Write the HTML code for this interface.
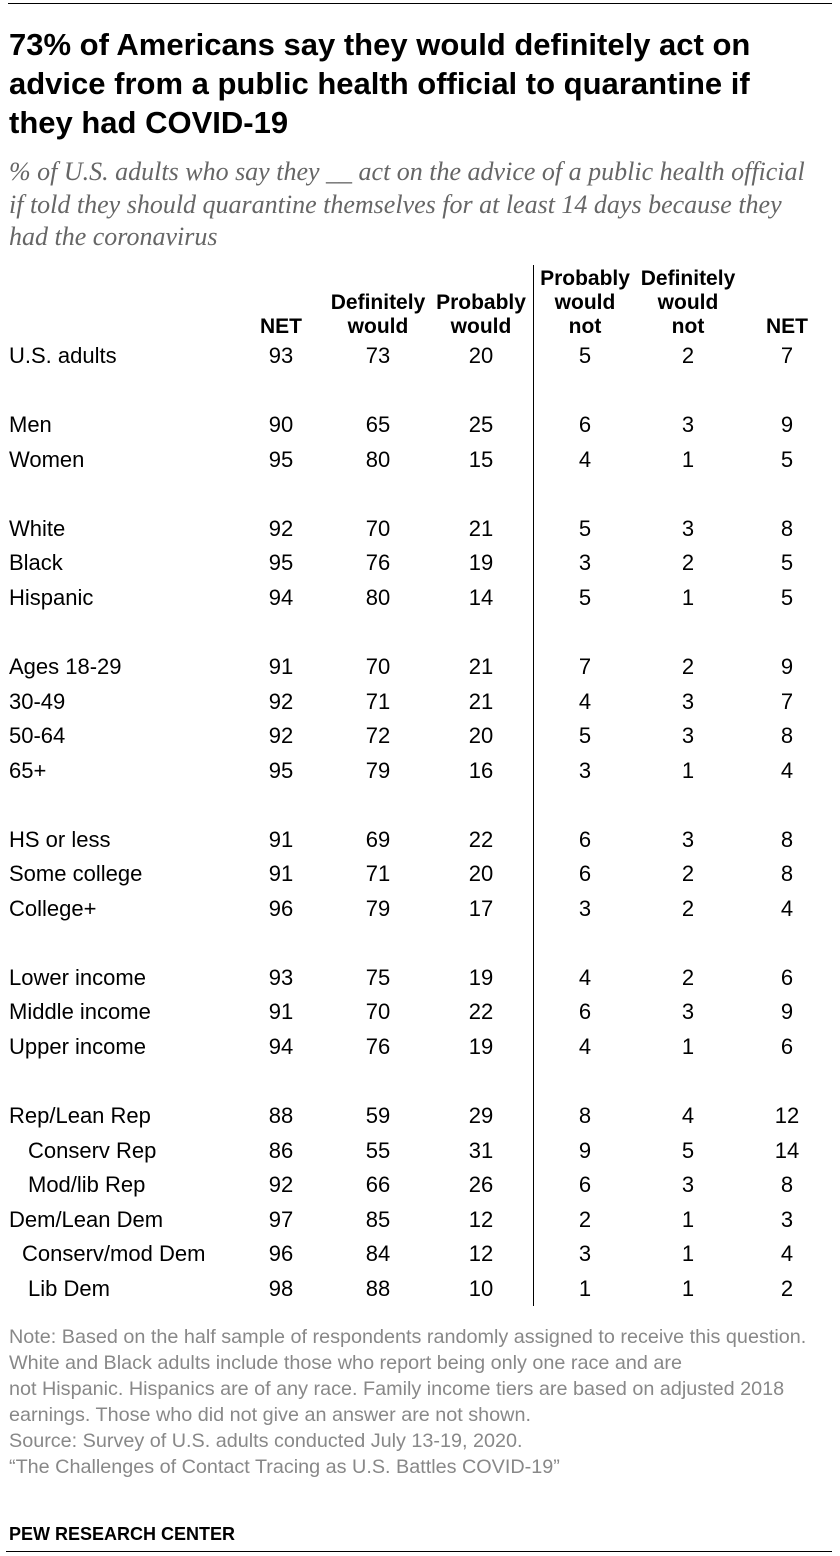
<!DOCTYPE html>
<html><head><meta charset="utf-8"><style>
body{margin:0;background:#fff;width:840px;height:1556px;position:relative;overflow:hidden;font-family:"Liberation Sans",sans-serif;}
.a{position:absolute;white-space:nowrap;}
.t{font-weight:bold;font-size:31px;line-height:39px;color:#000;left:9px;top:25px;}
.s{font-family:"Liberation Serif",serif;font-style:italic;font-size:26px;line-height:32.5px;color:#666;left:9px;top:156px;}
.h{font-weight:bold;font-size:21px;line-height:24px;text-align:center;width:120px;}
.r{font-size:22px;line-height:24px;color:#000;}
.n{font-size:19.8px;line-height:26px;color:#888;left:9px;top:1324px;}
</style></head><body>
<div class="a" style="left:8px;top:3px;width:824px;height:1px;background:#000"></div>
<div class="a t">73% of Americans say they would definitely act on<br>advice from a public health official to quarantine if<br>they had COVID-19</div>
<div class="a s">% of U.S. adults who say they __ act on the advice of a public health official<br>if told they should quarantine themselves for at least 14 days because they<br>had the coronavirus</div>
<div class="a" style="left:533px;top:265px;width:1px;height:1041px;background:#000"></div>
<div id="tbl"></div>
<div class="a n">Note: Based on the half sample of respondents randomly assigned to receive this question.<br>White and Black adults include those who report being only one race and are<br>not Hispanic. Hispanics are of any race. Family income tiers are based on adjusted 2018<br>earnings. Those who did not give an answer are not shown.<br>Source: Survey of U.S. adults conducted July 13-19, 2020.<br>“The Challenges of Contact Tracing as U.S. Battles COVID-19”</div>
<div class="a" style="left:9px;top:1524px;font-weight:bold;font-size:18px;">PEW RESEARCH CENTER</div>
<div class="a" style="left:6px;top:1551px;width:826px;height:1px;background:#000"></div>
<script>
const headers=["NET","Definitely\nwould","Probably\nwould","Probably\nwould\nnot","Definitely\nwould\nnot","NET"];
const labels=["U.S. adults","Men","Women","White","Black","Hispanic","Ages 18-29","30-49","50-64","65+","HS or less","Some college","College+","Lower income","Middle income","Upper income","Rep/Lean Rep","Conserv Rep","Mod/lib Rep","Dem/Lean Dem","Conserv/mod Dem","Lib Dem"];
const rowSlots=[0,2,3,5,6,7,9,10,11,12,14,15,16,18,19,20,22,23,24,25,26,27];
const indents=[0,0,0,0,0,0,0,0,0,0,0,0,0,0,0,0,0,19,19,0,13,19];
const netWould=[93,90,95,92,95,94,91,92,92,95,91,91,96,93,91,94,88,86,92,97,96,98];
const defWould=[73,65,80,70,76,80,70,71,72,79,69,71,79,75,70,76,59,55,66,85,84,88];
const probWould=[20,25,15,21,19,14,21,21,20,16,22,20,17,19,22,19,29,31,26,12,12,10];
const probNot=[5,6,4,5,3,5,7,4,5,3,6,6,3,4,6,4,8,9,6,2,3,1];
const defNot=[2,3,1,3,2,1,2,3,3,1,3,2,2,2,3,1,4,5,3,1,1,1];
const netNot=[7,9,5,8,5,5,9,7,8,4,8,8,4,6,9,6,12,14,8,3,4,2];
const series=[netWould,defWould,probWould,probNot,defNot,netNot];
const colX=[281,378,481,585,688,787];
const rowY=i=>344+i*34.55;
const tbl=document.getElementById('tbl');
headers.forEach((h,c)=>{
  const lines=h.split("\n");
  const d=document.createElement('div');
  d.className='a h';
  
  
  d.style.left=(colX[c]-60)+'px';
  d.style.top=(339-lines.length*24)+'px';
  d.innerHTML=lines.join('<br>');
  tbl.appendChild(d);
});
labels.forEach((l,i)=>{
  const y=rowY(rowSlots[i]);
  const d=document.createElement('div');
  d.className='a r';
  
  
  d.style.left=(9+indents[i])+'px';d.style.top=y+'px';d.textContent=l;
  tbl.appendChild(d);
  series.forEach((s,c)=>{
    const v=document.createElement('div');
    v.className='a r';
    
    
    v.style.left=(colX[c]-30)+'px';v.style.width='60px';v.style.textAlign='center';
    v.style.top=y+'px';v.textContent=s[i];
    tbl.appendChild(v);
  });
});
</script>
</body></html>
